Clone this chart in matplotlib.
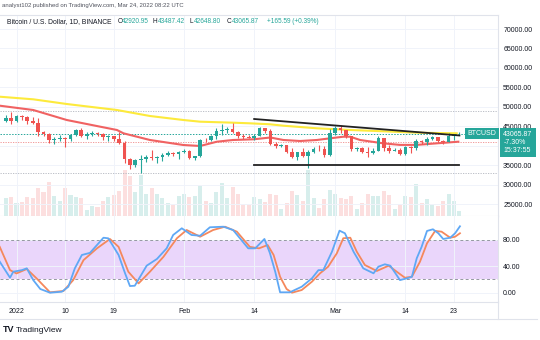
import numpy as np
import pandas as pd
import matplotlib
matplotlib.use("Agg")
import matplotlib.pyplot as plt
from matplotlib.transforms import blended_transform_factory
from matplotlib.lines import Line2D

plt.rcParams['font.family'] = ['Liberation Sans', 'DejaVu Sans']

# daily BTCUSD candles, Dec 30 2021 .. Mar 24 2022
dates = pd.date_range('2021-12-30', '2022-03-24', freq='D')
opens = [46470, 47120, 46220, 47720, 47300, 46450, 45830, 43430, 43100, 41550,
         41730, 41870, 41830, 42740, 43920, 42590, 43100, 43180, 43110, 42250,
         42380, 41680, 40700, 36450, 35070, 36280, 36690, 36960, 36830, 37160,
         37720, 38170, 37920, 38470, 38740, 36900, 37330, 41570, 41380, 42410,
         43840, 44040, 44380, 43530, 42380, 42220, 42060, 42540, 44560, 43880,
         40520, 40000, 40090, 38370, 37020, 38260, 37250, 38330, 39220, 39120,
         37700, 43180, 44420, 43920, 42450, 39140, 39400, 38420, 38060, 38740,
         41950, 39440, 38730, 38810, 37790, 39670, 39280, 41120, 40920, 41760,
         42200, 41260, 41000, 42360, 42920.95]
highs = [47900, 48550, 47950, 47990, 47570, 47500, 47070, 43750, 43140, 42300,
         42790, 42250, 43000, 44350, 44460, 43450, 43800, 43480, 43200, 42700,
         42580, 43500, 41100, 36840, 36500, 37550, 37550, 38900, 37230, 38000,
         38720, 38360, 38740, 39270, 38850, 37390, 41770, 41940, 42650, 44500,
         45490, 44790, 45820, 43900, 43000, 42750, 42880, 44770, 44580, 44200,
         40970, 40450, 40160, 39500, 38450, 39280, 39000, 39720, 40120, 39850,
         44220, 44950, 45400, 44100, 42500, 39640, 39650, 39550, 39380, 42600,
         42050, 40250, 39480, 39300, 39950, 39900, 41720, 41480, 42330, 42400,
         42300, 41550, 43350, 42950, 43487.42]
lows = [46000, 45700, 46200, 46650, 45700, 45500, 42500, 42430, 40610, 40500,
        41200, 39650, 41270, 42450, 42300, 41720, 42600, 42600, 41550, 41250,
        41150, 40550, 35450, 34000, 34600, 32950, 35700, 36250, 35500, 36150,
        37300, 37350, 36630, 38000, 36600, 36250, 37030, 40960, 41150, 41650,
        42660, 43150, 43200, 42000, 41750, 41860, 41570, 42430, 43300, 40080,
        39450, 39640, 38000, 36800, 36350, 37050, 34320, 38050, 38600, 37000,
        37450, 42850, 43350, 41850, 38650, 38600, 38100, 37160, 37860, 38680,
        38550, 38220, 38660, 37580, 37570, 38100, 38830, 40500, 40150, 41500,
        40900, 40500, 40900, 41500, 42648.80]
closes = [47120, 46220, 47720, 47300, 46450, 45830, 43430, 43100, 41550, 41730,
          41870, 41830, 42740, 43920, 42590, 43100, 43180, 43110, 42250, 42380,
          41680, 40700, 36450, 35070, 36280, 36690, 36960, 36830, 37160, 37720,
          38170, 37920, 38470, 38740, 36900, 37330, 41570, 41380, 42410, 43840,
          44040, 44380, 43530, 42380, 42220, 42060, 42540, 44560, 43880, 40520,
          40000, 40090, 38370, 37020, 38260, 37250, 38330, 39220, 39120, 37700,
          43180, 44420, 43920, 42450, 39140, 39400, 38420, 38060, 38740, 41950,
          39440, 38730, 38810, 37790, 39670, 39280, 41120, 40920, 41760, 42200,
          41260, 41000, 42360, 42900.28, 43065.87]
volumes = [18.0, 18.7, 12.7, 13.7, 18.7, 17.7, 28, 24, 34, 20,
           15, 28, 21, 19.3, 17.7, 6, 10, 8.7, 15, 19.3,
           21, 24.7, 46, 40, 24, 41, 22, 27.7, 22, 18,
           12.7, 11, 20, 22, 19.3, 20, 30, 14.7, 13.3, 24,
           32.7, 18, 28.7, 22, 12, 11, 19.3, 16.7, 13.7, 22,
           21, 6.7, 12.7, 24.7, 20.7, 15.3, 46, 17.7, 8.3, 16.7,
           26, 22, 18, 16.7, 20, 6.7, 12.7, 22, 20, 20,
           24.7, 21, 6.7, 12, 20, 19.3, 32, 13, 16.7, 11,
           10, 14.7, 22, 14.7, 4.7]

# moving averages (day offset from Jan 1 2022)
red_ma_days = [-3.1, 3.1, 9.3, 15.5, 18.6, 19.8, 24.7, 30.9, 34.0, 37.1, 40.1, 43.9,
               47.0, 49.4, 52.5, 55.6, 58.1, 60.5, 61.8, 63.6, 67.9, 71.0, 74.1, 77.8, 81.8]
red_ma_vals = [50280, 49170, 46600, 44880, 44030, 43180, 41460, 40170, 39920, 41020, 41460, 41640,
               42100, 41460, 41200, 41460, 41900, 42300, 42300, 41460, 40600, 40200, 40200, 40600, 41020]
yellow_ma_days = [-3.1, 3.1, 9.3, 18.6, 24.7, 30.9, 34.0, 40.1, 43.2, 46.9, 49.4, 55.6,
                  61.8, 67.9, 74.1, 81.5]
yellow_ma_vals = [52590, 51920, 50715, 49170, 47630, 46600, 46165, 45910, 45750, 45500, 45135, 44470,
                  44030, 43700, 43340, 43180]

# drawn channel
trend_days = [44, 82]
trend_upper = [46860, 42620]
trend_lower = [35030, 35030]
dotted_levels = [48900, 32970]

# stochastic RSI
k_days = [-3.1, -1.2, -0.6, 1.0, 1.9, 3.1, 4.4, 6.2, 8.4, 9.6, 10.8, 12.1, 13.6, 14.9, 16.1, 17.0,
          18.9, 20.1, 21.0, 21.9, 24.1, 26.0, 27.8, 29.0, 30.6, 32.4, 34.0, 35.8, 38.3, 40.1,
          42.9, 44.2, 45.9, 46.9, 47.9, 48.8, 50.6, 52.8, 54.7, 55.9, 56.8, 58.4, 59.8, 60.8,
          62.4, 64.2, 66.1, 67.0, 68.2, 69.2, 71.0, 72.3, 73.2, 74.1, 75.0, 76.0, 77.1, 78.1,
          79.0, 80.3, 81.2, 82.1]
k_vals = [46.7, 22.6, 31.6, 34, 36.7, 19, 5.6, 0, 1.5, 9, 36.7, 56.8, 60, 71.8, 82.8, 81.9,
          56.8, 29.2, 10, 10.5, 40.7, 50.8, 66.8, 86.9, 97, 86.9, 85.8, 98.5, 99.4, 94.4,
          66.8, 66.8, 80.9, 60, 31.6, 0.6, 0.6, 9, 21.7, 34, 34, 61.7, 93.4, 89.5,
          61.7, 36.7, 29.2, 39.2, 42.8, 40.7, 19, 21.7, 24, 51.8, 69, 93, 95.5, 89.5,
          80.9, 82.8, 89.5, 100]
d_days = [-3.1, -1.2, 0.0, 1.9, 3.7, 6.2, 8.7, 10.5, 12.4, 14.9, 17.3, 18.9, 20.7, 22.6, 24.7,
          27.2, 29.7, 31.5, 34.0, 36.4, 38.6, 40.8, 43.2, 44.9, 46.5, 47.6, 48.8, 50.0, 51.0,
          52.8, 54.7, 56.2, 57.7, 59.3, 60.5, 61.8, 63.0, 64.5, 66.7, 68.9, 70.4, 71.9, 73.2,
          74.7, 76.0, 77.5, 78.7, 80.3, 81.2, 82.1]
d_vals = [69, 34, 29, 35.7, 21.7, 0.6, 2.6, 19, 49, 66.8, 80.9, 69, 31.6, 14, 31.6,
          54, 82, 94.4, 84.3, 94.4, 99.4, 91.9, 69, 66.8, 71.8, 56.8, 24, 5.6, 0,
          4, 16.6, 29.2, 39.2, 59.3, 82, 82.8, 61.7, 41.7, 32.7, 40.7, 31.6, 22.6, 24,
          46.7, 74.4, 93, 91.9, 82.8, 84.3, 89.5]

price_ticks = [25000, 30000, 35000, 40000, 45000, 50000, 55000, 60000, 65000, 70000]
stoch_ticks = [0, 40, 80]
time_tick_days = [0, 9, 18, 31, 44, 59, 72, 81]
time_tick_labels = ['2022', '10', '19', 'Feb', '14', 'Mar', '14', '23']

UP, DOWN = '#26a69a', '#ef5350'
GRID, BORDER, TXT = '#f0f3fa', '#e0e3eb', '#131722'

W, H = 540, 340


def px_rect(x0, y0, x1, y1):
    return [x0 / W, 1 - y1 / H, (x1 - x0) / W, (y1 - y0) / H]


days = np.array((dates - pd.Timestamp('2022-01-01')).days, dtype=float)
o, h, l, c = map(np.array, (opens, highs, lows, closes))
up = c >= o
colors = np.where(up, UP, DOWN)

fig = plt.figure(figsize=(5.4, 3.4), dpi=100)
vol_ax = fig.add_axes(px_rect(0, 15, 498.3, 216))
ax = fig.add_axes(px_rect(0, 15, 498.3, 216), sharex=vol_ax)
ax.set_facecolor('none')
sax = fig.add_axes(px_rect(0, 216, 498.3, 302), sharex=vol_ax)

# volume overlay
vol_ax.bar(days, volumes, width=0.75, color=colors, alpha=0.18, linewidth=0)
vol_ax.set_ylim(0, max(volumes) * 201 / 46)
vol_ax.axis('off')

# candles
ax.vlines(days, l, h, color=colors, lw=0.8, zorder=3)
body = np.maximum(np.abs(c - o), 80)
ax.bar(days, body, bottom=np.minimum(o, c), width=0.68, color=colors, linewidth=0, zorder=4)

ax.plot(yellow_ma_days, yellow_ma_vals, color='#fdea3c', lw=1.5, zorder=2)
ax.plot(red_ma_days, red_ma_vals, color='#f06262', lw=1.5, zorder=2)
ax.plot(trend_days, trend_upper, color='#222222', lw=1.3, zorder=5)
ax.plot(trend_days, trend_lower, color='#222222', lw=1.3, zorder=5)

for lev in dotted_levels:
    ax.axhline(lev, color='#b2b5be', ls=(0, (1.5, 1.5)), lw=0.6, zorder=1)
ax.axhline(red_ma_vals[-1], color='#f08a8a', ls=(0, (1.5, 1.5)), lw=0.6, zorder=1)
ax.axhline(closes[-1], color=UP, ls=(0, (1.5, 1.5)), lw=0.7, zorder=1)

ax.set_xlim(-3.056, 89.2)
ax.set_ylim(21916, 73600)
ax.yaxis.tick_right()
ax.set_yticks(price_ticks)
ax.set_yticklabels(['' if t == 40000 else f'{t:.2f}' for t in price_ticks])
ax.set_xticks(time_tick_days)
ax.tick_params(axis='y', length=0, pad=3.5, labelsize=5, labelcolor=TXT)
ax.tick_params(axis='x', length=0, labelbottom=False)
ax.grid(True, color=GRID, lw=0.7, zorder=0)
ax.set_axisbelow(True)
ax.spines['left'].set_visible(False)
for side in ('top', 'right', 'bottom'):
    ax.spines[side].set_color(BORDER)
    ax.spines[side].set_linewidth(0.8)

blend = blended_transform_factory(ax.transAxes, ax.transData)
ax.annotate('BTCUSD', xy=(482 / 498.3, closes[-1]), xycoords=blend, ha='center', va='center',
            fontsize=5, color='white', zorder=6,
            bbox=dict(boxstyle='square,pad=0.3', fc=UP, ec='none'))
ax.annotate('43065.87\n-7.30%\n15:37:55', xy=(1, closes[-1]), xycoords=blend,
            xytext=(3.6, -6.3), textcoords='offset points', ha='left', va='center',
            fontsize=5, color='white', linespacing=1.2, annotation_clip=False,
            bbox=dict(boxstyle='square,pad=0.45', fc=UP, ec='none'))

# stochastic RSI pane
sax.axhspan(20, 80, color='#ead6fb', lw=0, zorder=0)
for lev in (20, 80):
    sax.axhline(lev, color='#9598a1', ls=(0, (3, 2.5)), lw=0.7, zorder=1)
sax.plot(d_days, d_vals, color='#f5885c', lw=1.3, zorder=3)
sax.plot(k_days, k_vals, color='#5fa8f5', lw=1.3, zorder=4)
sax.set_ylim(-14, 115.5)
sax.yaxis.tick_right()
sax.set_yticks(stoch_ticks)
sax.set_yticklabels([f'{t:.2f}' for t in stoch_ticks])
sax.set_xticks(time_tick_days)
sax.set_xticklabels(time_tick_labels)
sax.tick_params(axis='y', length=0, pad=3.5, labelsize=5, labelcolor=TXT)
sax.tick_params(axis='x', length=0, pad=4.5, labelsize=5, labelcolor=TXT)
sax.grid(True, color=GRID, lw=0.7, zorder=0)
sax.set_axisbelow(True)
for side in ('left', 'top'):
    sax.spines[side].set_visible(False)
for side in ('right', 'bottom'):
    sax.spines[side].set_color(BORDER)
    sax.spines[side].set_linewidth(0.8)

fig.add_artist(Line2D([0, 537 / W], [1 - 319 / H] * 2, color=BORDER, lw=0.8))
fig.add_artist(Line2D([498.3 / W] * 2, [1 - 302 / H, 1 - 319 / H], color=BORDER, lw=0.8))

# header
fig.text(2 / W, 1 - 6 / H, 'analyst102 published on TradingView.com, Mar 24, 2022 08:22 UTC',
         fontsize=4.3, color='#50535e', va='center')
hy = 1 - 21.5 / H
fig.text(6.7 / W, hy, 'Bitcoin / U.S. Dollar, 1D, BINANCE', fontsize=4.9, color=TXT, va='center')
for x0, letter, val in [(117.3, 'O', '42920.95'), (152.7, 'H', '43487.42'),
                        (189, 'L', '42648.80'), (226.7, 'C', '43065.87')]:
    fig.text(x0 / W, hy, letter, fontsize=4.7, color=TXT, va='center')
    fig.text((x0 + 5.0) / W, hy, val, fontsize=4.7, color=UP, va='center')
fig.text(266.7 / W, hy, '+165.59 (+0.39%)', fontsize=4.7, color=UP, va='center')

fig.text(3 / W, 1 - 330 / H, 'TV', fontsize=6.5, weight='bold', color=TXT, va='center')
fig.text(16 / W, 1 - 330 / H, 'TradingView', fontsize=6, color=TXT, va='center')

fig.savefig('out.png', dpi=100)
